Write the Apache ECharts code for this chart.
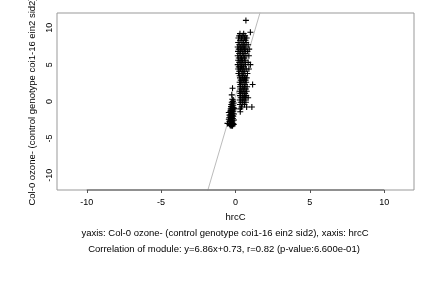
<!DOCTYPE html>
<html><head><meta charset="utf-8">
<script src="https://cdn.jsdelivr.net/npm/echarts@6/dist/echarts.min.js"></script>
<style>html,body{margin:0;padding:0;background:#fff}#c{width:432px;height:288px}</style>
</head><body><div id="c"></div>
<script>
const xTicks = [-10, -5, 0, 5, 10];
const yTicks = [-10, -5, 0, 5, 10];
const xName = "hrcC";
const yName = "Col-0 ozone- (control genotype coi1-16 ein2 sid2)";
const subtitle1 = "yaxis: Col-0 ozone- (control genotype coi1-16 ein2 sid2), xaxis: hrcC";
const subtitle2 = "Correlation of module: y=6.86x+0.73, r=0.82 (p-value:6.600e-01)";
const fitSlope = 6.86;
const fitIntercept = 0.73;
const clusterA = [
[-0.2,1.8],[-0.25,0.9],[-0.22,0.3],[-0.15,0.2],[-0.18,0.0],[-0.25,-0.1],[-0.12,-0.2],[-0.2,-0.3],
[-0.28,-0.4],[-0.15,-0.5],[-0.22,-0.6],[-0.3,-0.7],[-0.18,-0.8],[-0.25,-0.9],[-0.12,-1.0],[-0.32,-1.0],
[-0.2,-1.1],[-0.27,-1.2],[-0.15,-1.3],[-0.35,-1.3],[-0.22,-1.4],[-0.3,-1.5],[-0.18,-1.6],[-0.4,-1.85],
[-0.25,-1.7],[-0.33,-1.8],[-0.2,-1.9],[-0.28,-2.0],[-0.15,-2.0],[-0.36,-2.1],[-0.23,-2.2],[-0.3,-2.3],
[-0.18,-2.3],[-0.45,-2.4],[-0.27,-2.5],[-0.35,-2.5],[-0.2,-2.6],[-0.4,-2.7],[-0.3,-2.7],[-0.22,-2.8],
[-0.54,-2.97],[-0.35,-2.9],[-0.27,-3.0],[-0.18,-3.0],[-0.4,-3.1],[-0.3,-3.15],[-0.22,-3.2],[-0.35,-3.25],
[-0.28,-3.3],[-0.2,-3.3],[-0.1,-0.9],[-0.1,-1.7],[-0.1,-2.5],[-0.45,-1.5],[-0.12,-3.1],[-0.42,-2.2]
];
const clusterB = [
[0.7,11.0],[1.0,9.4],
[0.3,9.2],[0.55,9.2],[0.25,8.9],[0.45,8.9],[0.65,8.9],[0.2,8.6],[0.4,8.6],[0.6,8.6],[0.75,8.6],
[0.3,8.3],[0.5,8.3],[0.68,8.3],[0.18,8.0],[0.38,8.0],[0.55,8.0],[0.72,8.0],
[0.25,7.7],[0.45,7.7],[0.62,7.7],[0.85,7.7],[0.15,7.4],[0.35,7.4],[0.52,7.4],[0.7,7.4],
[0.22,7.1],[0.42,7.1],[0.6,7.1],[0.92,7.1],[0.17,6.8],[0.33,6.8],[0.5,6.8],[0.66,6.8],[0.8,6.8],
[0.25,6.5],[0.45,6.5],[0.58,6.5],[0.15,6.2],[0.35,6.2],[0.52,6.2],[0.7,6.2],[0.9,6.2],
[0.22,5.9],[0.4,5.9],[0.6,5.9],[0.18,5.6],[0.32,5.6],[0.48,5.6],[0.65,5.6],
[0.25,5.3],[0.42,5.3],[0.58,5.3],[0.85,5.3],[0.15,5.0],[0.35,5.0],[0.5,5.0],[0.68,5.0],[1.0,5.0],
[0.22,4.7],[0.4,4.7],[0.55,4.7],[0.18,4.4],[0.33,4.4],[0.5,4.4],[0.72,4.4],[0.9,4.4],
[0.25,4.1],[0.45,4.1],[0.62,4.1],[0.2,3.8],[0.38,3.8],[0.55,3.8],[0.8,3.8],[0.28,3.5],[0.48,3.5],[0.65,3.5],
[0.3,3.2],[0.45,3.2],[0.6,3.2],[0.75,3.2],[0.35,2.9],[0.52,2.9],[0.68,2.9],
[0.28,2.6],[0.42,2.6],[0.58,2.6],[0.72,2.6],[0.33,2.3],[0.5,2.3],[0.65,2.3],[1.15,2.3],
[0.3,2.0],[0.45,2.0],[0.6,2.0],[0.78,2.0],[0.35,1.7],[0.52,1.7],[0.7,1.7],
[0.28,1.4],[0.42,1.4],[0.58,1.4],[0.75,1.4],[0.33,1.1],[0.5,1.1],[0.65,1.1],
[0.3,0.8],[0.45,0.8],[0.6,0.8],[0.72,0.8],[0.35,0.5],[0.52,0.5],[0.68,0.5],[0.85,0.5],
[0.3,0.2],[0.45,0.2],[0.62,0.2],[0.35,-0.1],[0.5,-0.1],[0.7,-0.1],[0.3,-0.4],[0.45,-0.4],[0.6,-0.4],
[0.4,-0.75],[0.75,-0.75],[1.1,-0.75],[0.32,-1.0],[0.32,-1.4]
];

const fitLine = [-12, 12].map(x => [x, fitSlope * x + fitIntercept]);
const xAxisSpan = [[xTicks[0], -12], [xTicks[xTicks.length - 1], -12]];
const plus = 'path://M0,4.1H10V5.9H0Z M4.1,0H5.9V10H4.1Z';
const font = 'Liberation Sans, Arial, sans-serif';
const fs = 9;
const fsT = 9.5;

const chart = echarts.init(document.getElementById('c'), null, {renderer: 'canvas'});
chart.setOption({
  animation: false,
  backgroundColor: '#fff',
  grid: {left: 57, right: 18, top: 13, bottom: 98, show: true, containLabel: false, outerBoundsMode: 'none',
         borderColor: '#999', borderWidth: 1, backgroundColor: 'transparent'},
  xAxis: {
    type: 'value', min: -12, max: 12, interval: 5,
    name: xName, nameLocation: 'middle', nameGap: 22,
    nameTextStyle: {fontFamily: font, fontSize: fsT, color: '#000'},
    axisLine: {show: false, onZero: false},
    axisTick: {show: true, length: 3, lineStyle: {color: '#555'}, customValues: xTicks},
    axisLabel: {fontFamily: font, fontSize: fs, color: '#000', margin: 8, customValues: xTicks},
    splitLine: {show: false}
  },
  yAxis: {
    type: 'value', min: -12, max: 12, interval: 5,
    name: yName, nameLocation: 'middle', nameGap: 14, nameRotate: 90,
    nameTextStyle: {fontFamily: font, fontSize: fsT, color: '#000'},
    axisLine: {show: false, onZero: false},
    axisTick: {show: false, customValues: yTicks},
    axisLabel: {fontFamily: font, fontSize: fs, color: '#000', margin: 3, rotate: 90, customValues: yTicks},
    splitLine: {show: false}
  },
  graphic: [
    {type: 'text', x: 225, y: 233, style: {text: subtitle1, font: fsT + 'px ' + font, fill: '#000', textAlign: 'center', textVerticalAlign: 'middle'}},
    {type: 'text', x: 224, y: 249.5, style: {text: subtitle2, font: fsT + 'px ' + font, fill: '#000', textAlign: 'center', textVerticalAlign: 'middle'}}
  ],
  series: [
    {type: 'line', data: xAxisSpan, clip: false, symbol: 'none', lineStyle: {color: '#555', width: 1}, z: 3, silent: true},
    {type: 'line', data: fitLine, clip: true, symbol: 'none', lineStyle: {color: '#bbb', width: 1}, z: 1, silent: true},
    {type: 'scatter', data: clusterA, symbol: plus, symbolSize: 6, itemStyle: {color: '#000', opacity: 1}, z: 2},
    {type: 'scatter', data: clusterB, symbol: plus, symbolSize: 6, itemStyle: {color: '#000', opacity: 1}, z: 2}
  ]
});
</script></body></html>
